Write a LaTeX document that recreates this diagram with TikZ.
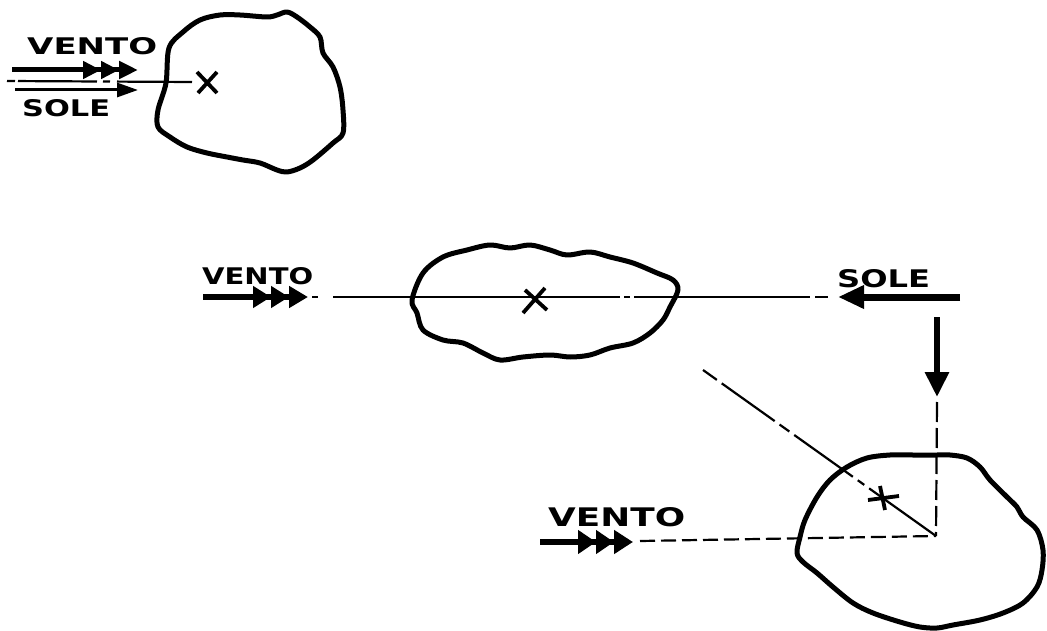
\documentclass[tikz,border=0pt]{standalone}
\usepackage{fontspec}
\usepackage{graphicx}
\newfontfamily\letterfont{DejaVu Sans}
\usetikzlibrary{arrows.meta}
\newcommand\mylabel[3]{\resizebox{#1}{#2}{\letterfont\bfseries #3}}
\tikzset{
 blob/.style={line width=5pt, line join=round, line cap=round},
 axis/.style={line width=2.2pt},
 dashline/.style={axis, dash pattern=on 15pt off 6pt},
 wind/.style={line width=6pt, -{Triangle[length=18pt,width=#1,sep=0pt]Triangle[length=18pt,width=#1,sep=0pt]Triangle[length=19pt,width=#1,sep=0pt]}},
 wind/.default=21pt,
 sunarrow/.style={line width=7pt, -{Triangle[length=26pt,width=22pt]}},
 cross/.style={line width=3.8pt},
 txt/.style={inner sep=0pt, anchor=south west},
}
\begin{document}
\begin{tikzpicture}[x=1pt,y=-1pt]
\fill[white] (0,0) rectangle (1047,631);
\useasboundingbox (0,0) rectangle (1047,631);

% ---------- top-left ----------
\draw[blob] plot[smooth cycle, tension=0.55] coordinates {
 (169,48) (183,32) (200,20) (220,15) (240,15) (267,17) (277,15) (287,12) (297,17)
 (310,27) (320,37) (323,53) (333,67) (340,87) (343,110) (343,133) (333,143) (313,160)
 (300,168) (287,172) (277,170) (260,163) (243,160) (227,157) (207,153) (187,147) (170,137)
 (158,127) (158,110) (166,83)};
\node[txt] (v1) at (27,55) {\mylabel{130pt}{17pt}{VENTO}};
\node[txt] (s1) at (22,117) {\mylabel{88pt}{17pt}{SOLE}};
\coordinate (a1s) at (12,70); \coordinate (a1e) at (138,70);
\draw[wind=17pt, line width=5pt] (a1s) -- (a1e);
\coordinate (b1s) at (15,90); \coordinate (b1e) at (138,90);
\draw[line width=3pt, -{Triangle[length=21pt,width=14pt]}] (b1s) -- (b1e);
\coordinate (l1s) at (7,81); \coordinate (l1e) at (192,82);
\draw[axis, dash pattern=on 8pt off 3pt on 79pt off 6pt on 7pt off 7pt on 200pt] (l1s) -- (l1e);
\draw[cross] (197,72) -- (217,93) (217,72) -- (198,93);

% ---------- middle ----------
\draw[blob] plot[smooth cycle, tension=0.55] coordinates {
 (412,300) (417,313) (423,330) (443,340) (463,343) (483,353) (500,360) (523,357) (550,355)
 (570,357) (590,355) (610,348) (633,343) (650,333) (663,320) (670,307) (678,290) (673,280)
 (657,273) (633,263) (610,257) (590,252) (567,255) (550,250) (530,245) (510,248) (490,245)
 (467,250) (443,257) (423,273)};
\draw[cross] (525,290) -- (547,310) (545,288) -- (523,313);
\node[txt] (v2) at (202,285) {\mylabel{111pt}{17pt}{VENTO}};
\node[txt] (s2) at (837,288) {\mylabel{93pt}{18pt}{SOLE}};
\coordinate (a2s) at (203,297); \coordinate (a2e) at (308,297);
\draw[wind] (a2s) -- (a2e);
\coordinate (sunS) at (960,297); \coordinate (sunE) at (838,297);
\draw[axis, dash pattern=on 0pt off 4pt on 6pt off 15pt on 287pt off 4pt on 6pt off 4pt on 176pt off 5pt on 13pt off 10pt] (a2e) -- (sunE);
\draw[sunarrow] (sunS) -- (sunE);
\coordinate (dS) at (937,317); \coordinate (dE) at (937,397);
\draw[line width=6pt, -{Triangle[length=25pt,width=23pt]}] (dS) -- (dE);

% ---------- bottom right ----------
\draw[blob] plot[smooth cycle, tension=0.55] coordinates {
 (797,553) (800,537) (805,520) (817,497) (830,480) (847,467) (867,458) (890,455) (913,455)
 (937,455) (950,455) (967,458) (980,467) (990,480) (1007,497) (1017,507) (1023,517)
 (1037,530) (1043,550) (1042,570) (1037,587) (1023,603) (1003,613) (980,620) (953,625)
 (937,628) (920,627) (900,622) (873,613) (853,603) (833,587) (817,573) (803,562)};
\coordinate (corner) at (936,536);
\coordinate (vtop) at (937,402);
\draw[axis, dash pattern=on 20pt off 6pt] (vtop) -- (corner);
\coordinate (dgs) at (703,370);
\draw[axis, dash pattern=on 17pt off 6pt on 65pt off 6pt on 12pt off 6pt on 72pt off 6pt on 8pt off 6pt on 100pt] (dgs) -- (corner);
\draw[cross] (880,486) -- (885,510) (868,500) -- (899,496);
\node[txt] (v3) at (548,527) {\mylabel{137pt}{19pt}{VENTO}};
\coordinate (a3s) at (540,542); \coordinate (a3e) at (633,542);
\draw[wind=23pt] (a3s) -- (a3e);
\coordinate (h3s) at (640,541);
\draw[dashline] (h3s) -- (corner);
\end{tikzpicture}
\end{document}
